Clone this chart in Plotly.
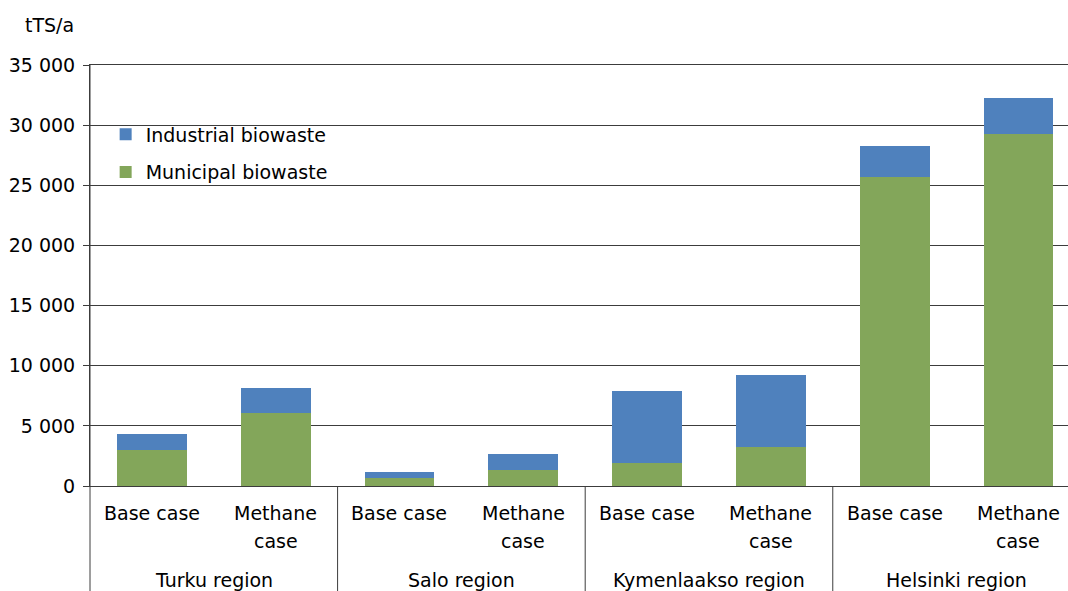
import plotly.graph_objects as go

# Dry-matter biowaste quantities per region and scenario (tonnes TS per year)
regions = ["Turku region", "Salo region", "Kymenlaakso region", "Helsinki region"]
cases = ["Base case", "Methane case"]
municipal = [3030, 6100, 700, 1370, 1950, 3280, 25700, 29280]
industrial = [1330, 2080, 500, 1330, 5980, 5980, 2580, 2990]
y_ticks = [0, 5000, 10000, 15000, 20000, 25000, 30000, 35000]
y_tick_text = ["0", "5 000", "10 000", "15 000", "20 000", "25 000", "30 000", "35 000"]

FONT = "DejaVu Sans"
FS = 19
INK = "#3c3c3c"
positions = list(range(len(municipal)))

fig = go.Figure()
fig.add_trace(go.Bar(
    x=positions, y=municipal, name="Municipal biowaste",
    marker=dict(color="#83A65A", line=dict(width=0)),
    width=0.565, legendgroup="m", legendrank=2,
))
fig.add_trace(go.Bar(
    x=positions, y=industrial, name="Industrial biowaste",
    marker=dict(color="#4F81BD", line=dict(width=0)),
    width=0.565, legendgroup="i", legendrank=1,
))

annotations = []
shapes = []
# Scenario labels under each bar, region labels under each pair
for i, pos in enumerate(positions):
    if i % 2 == 0:
        rows = [cases[0]]
    else:
        rows = cases[1].split(" ")
    for r, txt in enumerate(rows):
        annotations.append(dict(
            x=pos, xref="x", y=-0.064 - r * 0.0665, yref="paper",
            text=txt, showarrow=False, xanchor="center", yanchor="middle",
            font=dict(family=FONT, size=FS, color="black"),
        ))
for k, reg in enumerate(regions):
    annotations.append(dict(
        x=2 * k + 0.5, xref="x", y=-0.224, yref="paper",
        text=reg, showarrow=False, xanchor="center", yanchor="middle",
        font=dict(family=FONT, size=FS, color="black"),
    ))
    if k > 0:
        shapes.append(dict(
            type="line", xref="x", yref="paper",
            x0=2 * k - 0.5, x1=2 * k - 0.5, y0=0, y1=-0.3,
            line=dict(color=INK, width=1),
        ))
shapes.append(dict(
    type="line", xref="paper", yref="paper",
    x0=0, x1=0, y0=1, y1=-0.3, line=dict(color=INK, width=1),
))

annotations.append(dict(
    x=-0.041, xref="paper", y=1.095, yref="paper", text="tTS/a",
    showarrow=False, xanchor="center", yanchor="middle",
    font=dict(family=FONT, size=FS, color="black"),
))

fig.update_layout(
    width=1068, height=591,
    margin=dict(l=90, r=0, t=65, b=105, pad=0),
    paper_bgcolor="white", plot_bgcolor="white",
    barmode="stack",
    font=dict(family=FONT, size=FS, color="black"),
    xaxis=dict(
        range=[-0.5, 7.4], showticklabels=False, showgrid=False,
        zeroline=False, showline=True, linecolor=INK, linewidth=1,
        mirror=True, ticks="",
    ),
    yaxis=dict(
        range=[0, 35000], tickvals=y_ticks, ticktext=y_tick_text,
        showgrid=True, gridcolor=INK, gridwidth=1, zeroline=False,
        showline=True, linecolor=INK, linewidth=1,
        ticks="outside", ticklen=6, tickcolor=INK, ticklabelstandoff=4,
        tickfont=dict(family=FONT, size=FS, color="black"),
    ),
    legend=dict(
        x=0.016, y=0.88, xanchor="left", yanchor="top",
        traceorder="grouped", tracegroupgap=10,
        bgcolor="rgba(0,0,0,0)", borderwidth=0,
        font=dict(family=FONT, size=FS, color="black"),
        itemwidth=30,
    ),
    annotations=annotations,
    shapes=shapes,
)

fig.write_html("out.html")
